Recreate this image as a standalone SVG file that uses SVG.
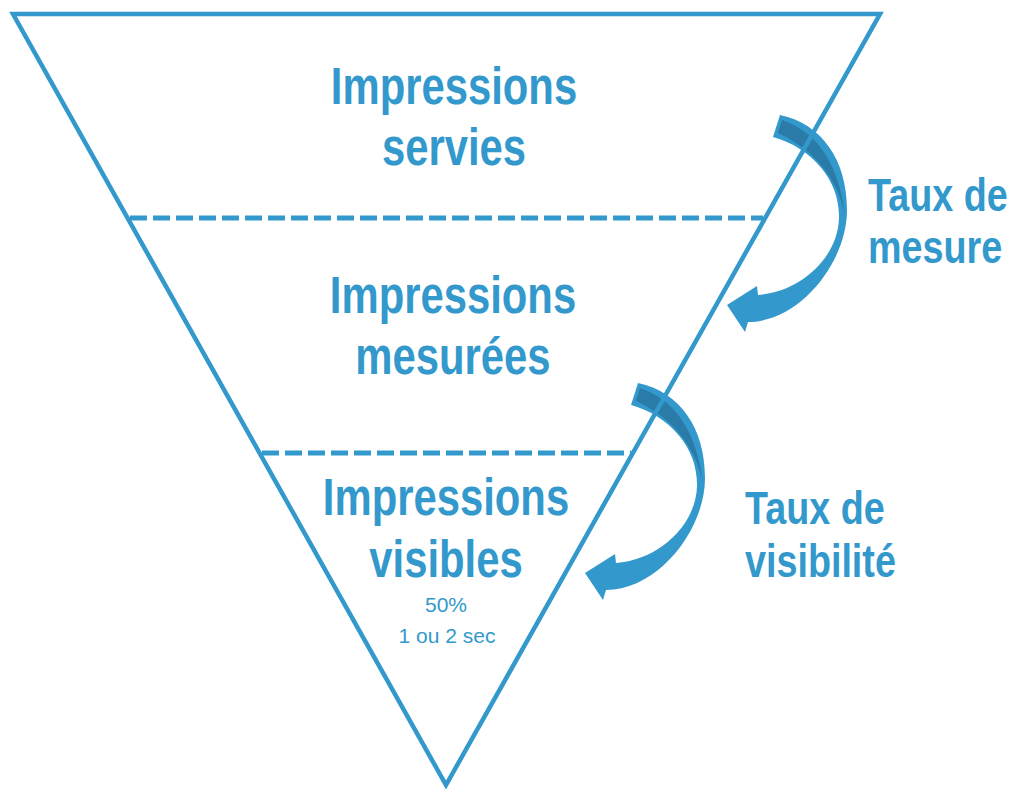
<svg xmlns="http://www.w3.org/2000/svg" xmlns:xlink="http://www.w3.org/1999/xlink" width="1014" height="789" viewBox="0 0 1014 789">
  <style>
    .funnel { fill: none; stroke: #3399CC; stroke-width: 4.5; stroke-linejoin: miter; }
    .divider { fill: none; stroke: #3399CC; stroke-width: 5; stroke-dasharray: 17 6; }
    .stage { font-family: "Liberation Sans", Arial, sans-serif; font-weight: bold; font-size: 51px; fill: #3399CC; text-anchor: middle; }
    .rate { font-family: "Liberation Sans", Arial, sans-serif; font-weight: bold; font-size: 46px; fill: #3399CC; }
    .note { font-family: "Liberation Sans", Arial, sans-serif; font-size: 21px; fill: #3399CC; text-anchor: middle; }
    .arrow-body { fill: #3399CC; }
    .arrow-back { fill: #2A7BA8; }
  </style>
  <defs>
    <!-- curved arrow turning back toward the funnel; darker strip shows its underside -->
    <g id="curved-arrow">
      <path class="arrow-body" d="M780,115 C822,124 847,160 847,210 C847,262 800,322 748,322 L745,332 L727,305 L757,286 L758,295 C800,292 838,258 839,218 C840,180 812,148 773,137 Z"/>
      <path class="arrow-back" d="M782,120 C815,131 838,160 845,215 C838,180 815,150 778,133 Z"/>
    </g>
  </defs>

  <!-- connectors: the two rate arrows -->
  <g id="connectors">
    <use id="arrow-mesure" xlink:href="#curved-arrow"/>
    <use id="arrow-visibilite" xlink:href="#curved-arrow" transform="translate(-142 268)"/>
  </g>

  <!-- funnel outline and stage dividers -->
  <g id="funnel">
    <polygon class="funnel" points="13,14 880,14 446,785"/>
    <line class="divider" x1="130" y1="218" x2="763" y2="218"/>
    <line class="divider" x1="262" y1="453" x2="631" y2="453"/>
  </g>

  <g id="stage-servies">
    <text class="stage" transform="translate(454 104) scale(0.82 1)">Impressions</text>
    <text class="stage" transform="translate(454 165) scale(0.82 1)">servies</text>
  </g>

  <g id="stage-mesurees">
    <text class="stage" transform="translate(453 313) scale(0.82 1)">Impressions</text>
    <text class="stage" transform="translate(453 374) scale(0.82 1)">mesurées</text>
  </g>

  <g id="stage-visibles">
    <text class="stage" transform="translate(446 515) scale(0.82 1)">Impressions</text>
    <text class="stage" transform="translate(446 577) scale(0.82 1)">visibles</text>
    <text class="note" x="446" y="612">50%</text>
    <text class="note" x="447" y="643">1 ou 2 sec</text>
  </g>

  <g id="label-mesure">
    <text class="rate" transform="translate(868 211) scale(0.82 1)">Taux de</text>
    <text class="rate" transform="translate(868 263) scale(0.82 1)">mesure</text>
  </g>

  <g id="label-visibilite">
    <text class="rate" transform="translate(745 524) scale(0.82 1)">Taux de</text>
    <text class="rate" transform="translate(745 577) scale(0.82 1)">visibilité</text>
  </g>
</svg>
